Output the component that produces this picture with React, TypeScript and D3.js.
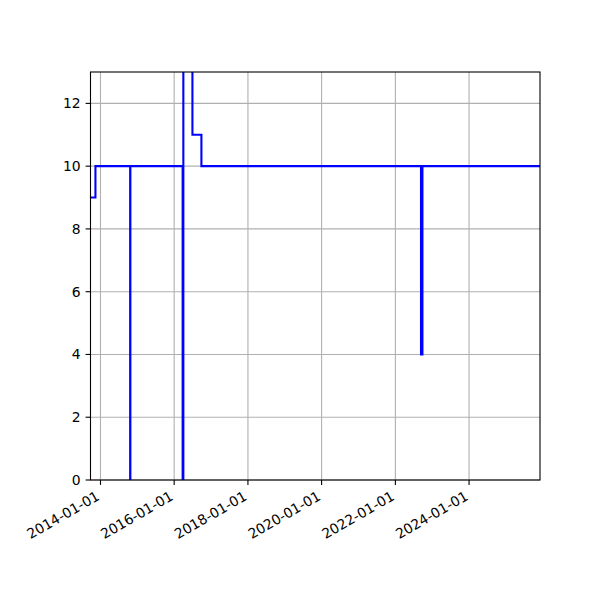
import React, { useEffect, useRef } from 'react';
import * as d3 from 'd3';

// step changes (post-style): value holds from each date until the next one
const changeDates = [
    "2013-09-24", "2013-11-12", "2014-10-22", "2014-10-24",
    "2016-03-25", "2016-04-01", "2016-06-30", "2016-09-27",
    "2022-09-12", "2022-09-26", "2025-12-04"
];
const values = [9, 10, 0, 10, 0, 16, 11, 10, 4, 10, 10];

const xTickLabels = ["2014-01-01", "2016-01-01", "2018-01-01", "2020-01-01", "2022-01-01", "2024-01-01"];
const yTicks = [0, 2, 4, 6, 8, 10, 12];
const xDomain = ["2013-09-24", "2025-12-04"];
const yDomain = [0, 13];

const App = () => {
    const ref = useRef<SVGSVGElement>(null);

    const width = 600;
    const height = 600;
    const margin = { left: 90.5, right: 60, top: 72, bottom: 120 };

    useEffect(() => {
        const svg = d3.select(ref.current);
        svg.selectAll('*').remove();

        const parse = d3.utcParse('%Y-%m-%d');
        const x = d3.scaleUtc()
            .domain(xDomain.map((d) => parse(d)!))
            .range([margin.left, width - margin.right]);
        const y = d3.scaleLinear()
            .domain(yDomain)
            .range([height - margin.bottom, margin.top]);

        const font = 'DejaVu Sans, sans-serif';
        const x0 = margin.left, x1 = width - margin.right;
        const y0 = height - margin.bottom, y1 = margin.top;

        svg.append('rect').attr('width', width).attr('height', height).attr('fill', 'white');

        svg.append('clipPath').attr('id', 'plot-clip')
            .append('rect')
            .attr('x', x0).attr('y', y1)
            .attr('width', x1 - x0).attr('height', y0 - y1);

        // grid
        const grid = svg.append('g').attr('stroke', '#b0b0b0').attr('stroke-width', 1.1);
        xTickLabels.forEach((t) => {
            const px = x(parse(t)!);
            grid.append('line').attr('x1', px).attr('x2', px).attr('y1', y0).attr('y2', y1);
        });
        yTicks.forEach((t) => {
            grid.append('line').attr('x1', x0).attr('x2', x1).attr('y1', y(t)).attr('y2', y(t));
        });

        // step line
        const data = changeDates.map((d, i) => ({ date: parse(d)!, value: values[i] }));
        const line = d3.line<any>()
            .x((d) => x(d.date))
            .y((d) => y(d.value))
            .curve(d3.curveStepAfter);

        svg.append('path')
            .datum(data)
            .attr('clip-path', 'url(#plot-clip)')
            .attr('d', line)
            .attr('fill', 'none')
            .attr('stroke', '#0000ff')
            .attr('stroke-width', 2.1);

        // spines
        svg.append('rect')
            .attr('x', x0).attr('y', y1)
            .attr('width', x1 - x0).attr('height', y0 - y1)
            .attr('fill', 'none')
            .attr('stroke', 'black')
            .attr('stroke-width', 1.1);

        // x ticks + labels
        xTickLabels.forEach((t) => {
            const px = x(parse(t)!);
            svg.append('line')
                .attr('x1', px).attr('x2', px)
                .attr('y1', y0).attr('y2', y0 + 4.9)
                .attr('stroke', 'black').attr('stroke-width', 1.1);
            svg.append('text')
                .attr('transform', `translate(${px}, ${y0 + 19}) rotate(-30)`)
                .attr('text-anchor', 'end')
                .style('font-family', font)
                .style('font-size', '13.9px')
                .text(t);
        });

        // y ticks + labels
        yTicks.forEach((t) => {
            svg.append('line')
                .attr('x1', x0 - 4.9).attr('x2', x0)
                .attr('y1', y(t)).attr('y2', y(t))
                .attr('stroke', 'black').attr('stroke-width', 1.1);
            svg.append('text')
                .attr('x', x0 - 9.8)
                .attr('y', y(t))
                .attr('dy', '0.36em')
                .attr('text-anchor', 'end')
                .style('font-family', font)
                .style('font-size', '13.9px')
                .text(t);
        });
    }, []);

    return (
        <svg ref={ref} width={width} height={height}
            style={{ position: 'absolute', left: 0, top: 0 }} />
    );
};

export default App;
